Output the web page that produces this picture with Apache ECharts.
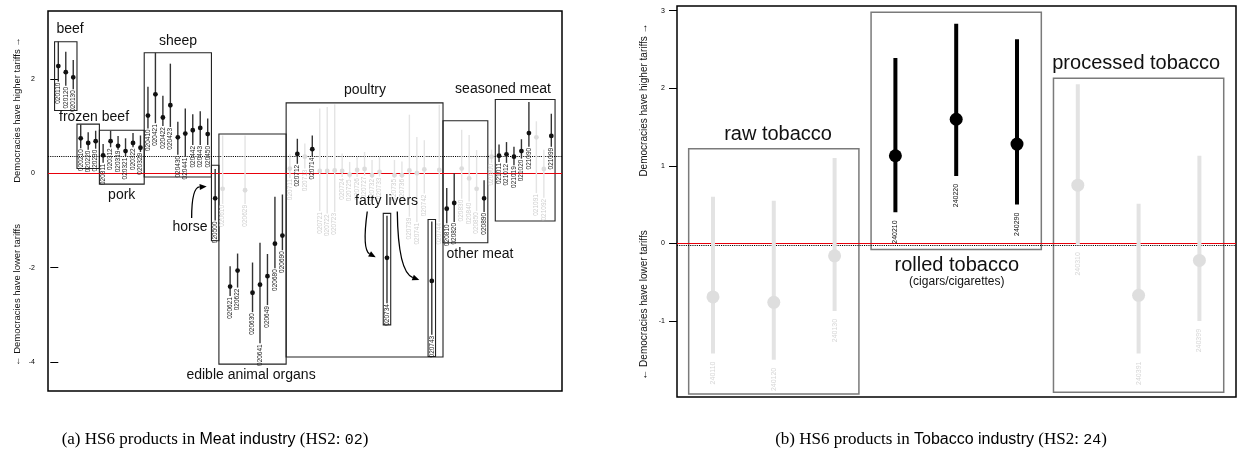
<!DOCTYPE html>
<html>
<head>
<meta charset="utf-8">
<script src="https://cdn.jsdelivr.net/npm/echarts@6/dist/echarts.min.js"></script>
<style>
  html, body { margin: 0; padding: 0; background: #fff; }
  #chart { width: 1238px; height: 463px; }
</style>
</head>
<body>
<div id="chart"></div>
<script>
// ---- (a) Meat industry, HS2 02 ----
const meatCodes = ['020110','020120','020130','020210','020220','020230','020311','020312','020319','020321','020322','020329',
  '020410','020421','020422','020423','020430','020441','020442','020443','020450','020500',
  '020610','020621','020622','020629','020630','020641','020649','020680','020690',
  '020711','020712','020713','020714','020721','020722','020723','020724','020725','020726','020727','020732','020733','020734','020735','020736','020739','020741','020742','020743','020744',
  '020810','020820','020830','020840','020850','020890','020900',
  '021011','021012','021019','021020','021090','021091','021092','021099'];
const meatEst = [2.27,2.14,2.03, 0.74,0.64,0.68, 0.38,0.68,0.58,0.47,0.64,0.54,
  1.22,1.67,1.18,1.44,0.76,0.84,0.91,0.96,0.83, -0.53,
  -0.33,-2.40,-2.06,-0.36,-2.53,-2.36,-2.18,-1.49,-1.32,
  0.10,0.41,0.35,0.51,0.05,0.05,0.06,0.05,-0.03,0.07,0.09,-0.04,0.03,-1.79,-0.04,-0.04,0.06,0.00,0.08,-2.28,0.07,
  -0.75,-0.63,0.10,-0.11,-0.33,-0.53, 0.35,
  0.37,0.40,0.35,0.47,0.85,0.76,0.09,0.79];
const meatLo = [1.94,1.85,1.78, 0.53,0.50,0.52, 0.22,0.55,0.50,0.35,0.55,0.45,
  0.95,1.06,1.00,0.98,0.39,0.35,0.60,0.60,0.60, -1.00,
  -0.65,-2.60,-2.42,-0.65,-2.94,-3.60,-2.79,-2.01,-1.63,
  -0.10,0.20,0.10,0.35,-0.80,-0.85,-0.82,-0.08,-0.11,-0.08,-0.05,-0.10,-0.07,-2.75,-0.10,-0.10,-0.92,-1.03,-0.43,-3.42,-1.03,
  -1.06,-1.03,-0.54,-0.60,-0.80,-0.82, 0.22,
  0.24,0.22,0.17,0.31,0.56,-0.42,-0.52,0.56];
const meatHi = [2.79,2.57,2.40, 1.03,0.87,0.90, 0.62,0.90,0.79,0.74,0.85,0.80,
  1.83,2.55,1.64,2.32,1.09,1.37,1.25,1.31,1.16, 0.09,
  0.80,-1.97,-1.70,0.80,-1.89,-1.47,-1.71,-0.50,-0.45,
  0.40,0.73,0.63,0.80,1.37,1.40,1.46,0.42,0.24,0.35,0.45,0.28,0.34,-0.90,0.28,0.25,1.24,0.77,0.70,-1.02,1.45,
  -0.31,0.00,0.92,0.81,0.49,-0.15, 0.50,
  0.61,0.66,0.56,0.72,1.51,1.10,0.50,1.26];
const meatSig = [1,1,1, 1,1,1, 1,1,1,1,1,1,
  1,1,1,1,1,1,1,1,1, 1,
  0,1,1,0,1,1,1,1,1,
  0,1,0,1,0,0,0,0,0,0,0,0,0,1,0,0,0,0,0,1,0,
  1,1,0,0,0,1, 0,
  1,1,1,1,1,0,0,1];
const meatTicks = [-4, -2, 0, 2];
const meatDotted = 0.36;
// groups: [first index, last index, box top, box bottom]
const meatBoxes = [[0,2,2.785,1.33],[3,5,1.04,0.10],[6,11,0.91,-0.23],[12,20,2.55,-0.08],[21,21,0.17,-1.43],
  [22,30,0.83,-4.04],[31,51,1.49,-3.89],[44,44,-0.85,-3.21],[50,50,-0.98,-3.88],[52,57,1.11,-1.47],[59,66,1.56,-1.01]];

// ---- (b) Tobacco industry, HS2 24 ----
const tobCodes = ['240110','240120','240130','240210','240220','240290','240310','240391','240399'];
const tobEst = [-0.69,-0.76,-0.16, 1.13,1.60,1.28, 0.75,-0.67,-0.22];
const tobLo = [-1.42,-1.50,-0.87, 0.40,0.87,0.50, -0.01,-1.42,-1.00];
const tobHi = [0.60,0.55,1.10, 2.39,2.83,2.63, 2.05,0.51,1.13];
const tobSig = [0,0,0, 1,1,1, 0,0,0];
const tobTicks = [-1, 0, 1, 2, 3];
const tobDotted = -0.02;
const tobBoxes = [[1,3,1.22,-1.94],[4,6,2.98,-0.08],[7,9,2.13,-1.92]];

const FONT = '"Liberation Sans", Arial, Helvetica, sans-serif';

// annotation text, anchored in data units of each panel
const meatNotes = [
  ['beef', 1.57, 3.05], ['frozen beef', 4.78, 1.19], ['pork', 8.49, -0.46], ['sheep', 16.02, 2.80],
  ['horse', 17.63, -1.15], ['edible animal organs', 25.8, -4.27], ['poultry', 41.06, 1.76],
  ['fatty livers', 43.94, -0.60], ['other meat', 56.45, -1.71], ['seasoned meat', 59.53, 1.78]
];
const tobNotes = [
  ['raw tobacco', 2.07, 1.40, 20], ['rolled tobacco', 5.01, -0.28, 20],
  ['(cigars/cigarettes)', 5.01, -0.49, 12], ['processed tobacco', 7.96, 2.32, 20]
];
// curved arrows: start, control, end (data units)
const meatArrows = [
  [[17.85, -0.95], [17.85, -0.30], [19.86, -0.28]],
  [[41.36, -0.81], [40.66, -1.62], [42.49, -1.78]],
  [[45.38, -0.81], [45.48, -2.09], [48.33, -2.26]]
];

function ciRender(codes, cfg) {
  return function (params, api) {
    const x = api.value(0), est = api.value(1), lo = api.value(2), hi = api.value(3);
    const on = api.value(4) === 1;
    const pE = api.coord([x, est]), pL = api.coord([x, lo]), pH = api.coord([x, hi]);
    return {
      type: 'group',
      children: [
        { type: 'line', z2: on ? 20 : 2,
          shape: { x1: pE[0], y1: pH[1], x2: pE[0], y2: pL[1] },
          style: { stroke: on ? cfg.lineOn : cfg.lineOff, lineWidth: cfg.lw } },
        { type: 'circle', z2: on ? 21 : 3,
          shape: { cx: pE[0], cy: pE[1], r: cfg.r },
          style: { fill: on ? cfg.dotOn : cfg.dotOff } },
        { type: 'text', z2: on ? 22 : 4, x: pE[0], y: pL[1] + cfg.gap, rotation: Math.PI / 2,
          style: { text: codes[params.dataIndex], align: 'right', verticalAlign: 'middle',
                   fontSize: cfg.font, fontFamily: FONT, fill: on ? cfg.textOn : cfg.textOff } }
      ]
    };
  };
}

function boxRender(pad, stroke, lw) {
  return function (params, api) {
    const a = api.coord([api.value(0) - pad, api.value(2)]);
    const b = api.coord([api.value(1) + pad, api.value(3)]);
    return { type: 'rect', z2: 1,
      shape: { x: a[0], y: a[1], width: b[0] - a[0], height: b[1] - a[1] },
      style: { fill: 'none', stroke: stroke, lineWidth: lw } };
  };
}

function noteRender(notes, size) {
  return function (params, api) {
    const n = notes[params.dataIndex];
    const p = api.coord([n[1], n[2]]);
    return { type: 'text', x: p[0], y: p[1], z2: 30,
      style: { text: n[0], align: 'center', verticalAlign: 'middle', fontFamily: FONT,
               fontSize: n[3] || size, fill: '#111' } };
  };
}

function arrowRender(params, api) {
  const a = meatArrows[params.dataIndex];
  const s = api.coord(a[0]), c = api.coord(a[1]), e = api.coord(a[2]);
  const ang = Math.atan2(e[1] - c[1], e[0] - c[0]);
  const L = 7, W = 3;
  const bx = e[0] - L * Math.cos(ang), by = e[1] - L * Math.sin(ang);
  const nx = -Math.sin(ang) * W, ny = Math.cos(ang) * W;
  return { type: 'group', children: [
    { type: 'bezierCurve', z2: 30,
      shape: { x1: s[0], y1: s[1], cpx1: c[0], cpy1: c[1], x2: bx, y2: by },
      style: { stroke: '#000', lineWidth: 1.3, fill: 'none' } },
    { type: 'polygon', z2: 31,
      shape: { points: [[e[0], e[1]], [bx + nx, by + ny], [bx - nx, by - ny]] },
      style: { fill: '#000' } }
  ] };
}

function refLine(xi, yi, value, color, type, z) {
  return {
    type: 'line', xAxisIndex: xi, yAxisIndex: yi, data: [], silent: true, z: z,
    markLine: {
      silent: true, symbol: 'none', label: { show: false },
      lineStyle: { color: color, width: 1.1, type: type, opacity: 1 },
      emphasis: { disabled: true },
      data: [{ yAxis: value }]
    }
  };
}

function yAxisFor(gi, min, max, ticks, margin) {
  return {
    type: 'value', gridIndex: gi, min: min, max: max,
    splitLine: { show: false },
    axisLine: { show: false },
    axisTick: { show: true, length: 8, customValues: ticks, lineStyle: { color: '#000', width: 1 } },
    axisLabel: { customValues: ticks, fontSize: 7, color: '#000', margin: margin, fontFamily: FONT }
  };
}

function yTitle(x, y, text, size) {
  return { type: 'text', x: x, y: y, rotation: Math.PI / 2,
    style: { text: text, align: 'center', verticalAlign: 'middle', fontSize: size, fontFamily: FONT, fill: '#111' } };
}

function caption(x, y, letter, industry, hs2) {
  return { type: 'text', x: x, y: y,
    style: {
      text: '{s|(' + letter + ') HS6 products in }{h|' + industry + '}{s| (HS2: }{m|' + hs2 + '}{s|)}',
      align: 'center', verticalAlign: 'middle',
      rich: {
        s: { fontFamily: '"Liberation Serif", "Times New Roman", serif', fontSize: 17, fill: '#000' },
        h: { fontFamily: FONT, fontSize: 16, fill: '#000' },
        m: { fontFamily: '"Liberation Mono", "DejaVu Sans Mono", monospace', fontSize: 15, fill: '#000' }
      }
    } };
}

const meatData = meatCodes.map((c, i) => [i, meatEst[i], meatLo[i], meatHi[i], meatSig[i]]);
const tobData = tobCodes.map((c, i) => [i + 1, tobEst[i], tobLo[i], tobHi[i], tobSig[i]]);

const chart = echarts.init(document.getElementById('chart'), null, { renderer: 'canvas' });
chart.setOption({
  animation: false,
  backgroundColor: '#fff',
  grid: [
    { left: 48, top: 11, width: 514, height: 380, show: true, borderColor: '#000', borderWidth: 1.5, backgroundColor: 'transparent' },
    { left: 677, top: 6, width: 559, height: 391, show: true, borderColor: '#000', borderWidth: 1.5, backgroundColor: 'transparent' }
  ],
  xAxis: [
    { type: 'value', gridIndex: 0, min: -1.38, max: 67.43, show: false },
    { type: 'value', gridIndex: 1, min: 0.408, max: 9.602, show: false }
  ],
  yAxis: [
    yAxisFor(0, -4.61, 3.435, meatTicks, 13),
    yAxisFor(1, -1.98, 3.06, tobTicks, 12)
  ],
  series: [
    refLine(0, 0, meatDotted, '#000', 'dotted', 4),
    refLine(0, 0, 0, '#e8000b', 'solid', 5),
    refLine(1, 1, tobDotted, '#000', 'dotted', 4),
    refLine(1, 1, 0, '#e8000b', 'solid', 5),
    { type: 'custom', xAxisIndex: 0, yAxisIndex: 0, z: 3, silent: true, data: meatBoxes,
      renderItem: boxRender(0.5, '#222', 1.1) },
    { type: 'custom', xAxisIndex: 1, yAxisIndex: 1, z: 3, silent: true, data: tobBoxes,
      renderItem: boxRender(0.4, '#7a7a7a', 1.5) },
    { type: 'custom', xAxisIndex: 0, yAxisIndex: 0, z: 6, silent: true, data: meatData,
      renderItem: ciRender(meatCodes, { lineOn: '#333', lineOff: '#e4e4e4', lw: 1.4, r: 2.4,
        dotOn: '#111', dotOff: '#dcdcdc', gap: 1, font: 6.5, textOn: '#222', textOff: '#cfcfcf' }) },
    { type: 'custom', xAxisIndex: 1, yAxisIndex: 1, z: 6, silent: true, data: tobData,
      renderItem: ciRender(tobCodes, { lineOn: '#000', lineOff: '#e3e3e3', lw: 4, r: 6.5,
        dotOn: '#000', dotOff: '#dedede', gap: 8, font: 7, textOn: '#111', textOff: '#d6d6d6' }) },
    { type: 'custom', xAxisIndex: 0, yAxisIndex: 0, z: 8, silent: true, data: meatNotes.map((n, i) => [i]),
      renderItem: noteRender(meatNotes, 14) },
    { type: 'custom', xAxisIndex: 1, yAxisIndex: 1, z: 8, silent: true, data: tobNotes.map((n, i) => [i]),
      renderItem: noteRender(tobNotes, 20) },
    { type: 'custom', xAxisIndex: 0, yAxisIndex: 0, z: 8, silent: true, data: meatArrows.map((a, i) => [i]),
      renderItem: arrowRender }
  ],
  graphic: [
    yTitle(17, 110, 'Democracies have higher tariffs \u2192', 9.5),
    yTitle(17, 295, '\u2190 Democracies have lower tariffs', 9.5),
    yTitle(644, 100, 'Democracies have higher tariffs \u2192', 10),
    yTitle(644, 305, '\u2190 Democracies have lower tariffs', 10),
    caption(215, 440, 'a', 'Meat industry', '02'),
    caption(941, 440, 'b', 'Tobacco industry', '24')
  ]
});
</script>
</body>
</html>
